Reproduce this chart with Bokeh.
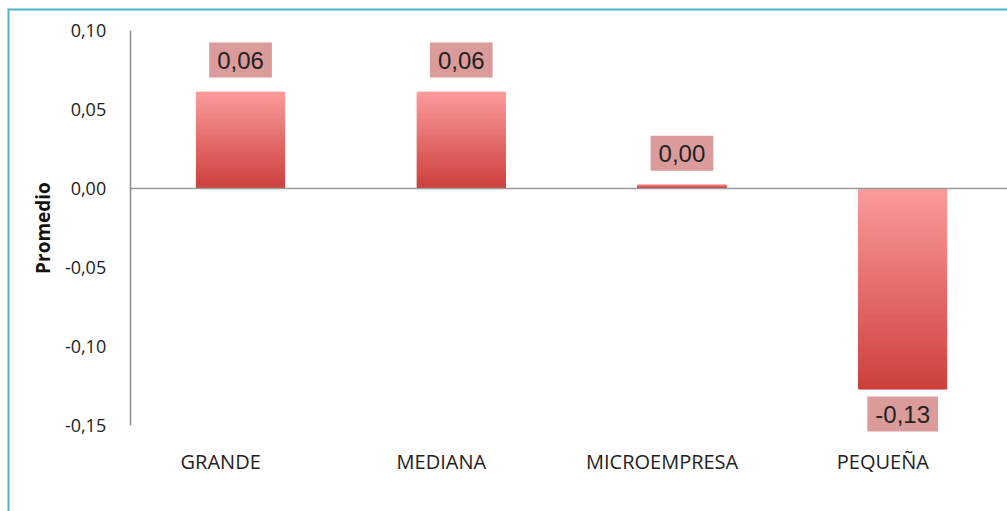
import numpy as np
from bokeh.plotting import figure
from bokeh.models import (Range1d, FixedTicker, CustomJSTickFormatter, Span,
                          ColumnDataSource)
from bokeh.core.properties import value
from bokeh.embed import file_html
from bokeh.resources import INLINE

# ---- data ----
categories = ["GRANDE", "MEDIANA", "MICROEMPRESA", "PEQUEÑA"]
promedio = [0.061, 0.061, 0.002, -0.127]
value_labels = ["0,06", "0,06", "0,00", "-0,13"]
y_ticks = [-0.15, -0.10, -0.05, 0.00, 0.05, 0.10]
y_tick_labels = ["-0,15", "-0,10", "-0,05", "0,00", "0,05", "0,10"]

W, H = 1007, 511
X0, X1 = -0.556, 3.975        # frame spans the outer chart box
Y0, Y1 = -0.2045, 0.1139
p = figure(width=W, height=H, output_backend="svg", toolbar_location=None,
           x_range=Range1d(X0, X1), y_range=Range1d(Y0, Y1),
           min_border_left=7, min_border_right=0, min_border_top=8,
           min_border_bottom=0)
p.background_fill_color = "white"
p.border_fill_color = "white"
p.outline_line_color = None
p.xgrid.visible = False
p.ygrid.visible = False

centers = [i + 0.5 for i in range(len(categories))]

# ---- gradient bars (sliced) ----
N = 60
c_top = np.array([252, 156, 156])
c_bot = np.array([205, 64, 60])
sx, sb, st, sc = [], [], [], []
for xc, v in zip(centers, promedio):
    hi, lo = max(v, 0.0), min(v, 0.0)
    edges = np.linspace(hi, lo, N + 1)
    for k in range(N):
        t = (k + 0.5) / N
        c = (c_top * (1 - t) + c_bot * t).astype(int)
        sx.append(xc)
        sb.append(edges[k + 1])
        st.append(edges[k])
        sc.append("#%02x%02x%02x" % tuple(c))
bars = ColumnDataSource(dict(x=sx, bottom=sb, top=st, color=sc))
p.vbar(x="x", bottom="bottom", top="top", width=0.4, source=bars,
       fill_color="color", line_color="color", line_width=1.0)

# zero line (from the value axis to the right edge)
p.segment(x0=[0], y0=[0], x1=[X1], y1=[0], line_color="#9a9a9a",
          line_width=1.6)

# ---- value labels ----
lab = ColumnDataSource(dict(
    x=centers, y=promedio, text=value_labels,
    yoff=[-32 if v >= 0 else 25 for v in promedio]))
p.text(x="x", y="y", text="text", y_offset="yoff", source=lab,
       text_align="center", text_baseline="middle",
       text_font=value("Liberation Sans"), text_font_size="24px",
       text_color="#222222", background_fill_color="#d99696",
       background_fill_alpha=0.95,
       padding=dict(left=8, right=8, top=9, bottom=9))

# ---- axes ----
fmt_code = """
let best = 0;
for (let i = 0; i < tv.length; i++) {
  if (Math.abs(tv[i] - tick) < Math.abs(tv[best] - tick)) best = i;
}
return lv[best];
"""
p.yaxis.fixed_location = 0
p.yaxis.bounds = (y_ticks[0], y_ticks[-1])
p.yaxis.ticker = FixedTicker(ticks=y_ticks)
p.yaxis.formatter = CustomJSTickFormatter(
    args=dict(tv=y_ticks, lv=y_tick_labels), code=fmt_code)
p.yaxis.axis_line_color = "#8c8c8c"
p.yaxis.axis_line_width = 1.5
p.yaxis.major_tick_line_color = None
p.yaxis.minor_tick_line_color = None
p.yaxis.major_label_standoff = 18
p.yaxis.major_label_text_font = "Open Sans"
p.yaxis.major_label_text_font_size = "18px"
p.yaxis.major_label_text_color = "#222222"
p.yaxis.axis_label = "Promedio"
p.yaxis.axis_label_text_font = "Open Sans"
p.yaxis.axis_label_text_font_style = "bold"
p.yaxis.axis_label_text_font_size = "19px"
p.yaxis.axis_label_text_color = "#111111"
p.yaxis.axis_label_standoff = 6

label_shift = -0.09   # category labels sit slightly left of the bars
p.xaxis.fixed_location = y_ticks[0]
p.xaxis.ticker = FixedTicker(ticks=[c + label_shift for c in centers])
p.xaxis.formatter = CustomJSTickFormatter(
    args=dict(tv=[c + label_shift for c in centers], lv=categories),
    code=fmt_code)
p.xaxis.axis_line_color = None
p.xaxis.major_tick_line_color = None
p.xaxis.minor_tick_line_color = None
p.xaxis.major_label_standoff = 17
p.xaxis.major_label_text_font = "Open Sans"
p.xaxis.major_label_text_font_size = "20px"
p.xaxis.major_label_text_color = "#222222"

# ---- outer chart border (left and top, teal) ----
border_col = "#4fb3cc"
p.add_layout(Span(location=X0, dimension="height", line_color=border_col,
                  line_width=4))
p.add_layout(Span(location=Y1, dimension="width", line_color=border_col,
                  line_width=4))

open("out.html", "w").write(file_html(p, INLINE))
